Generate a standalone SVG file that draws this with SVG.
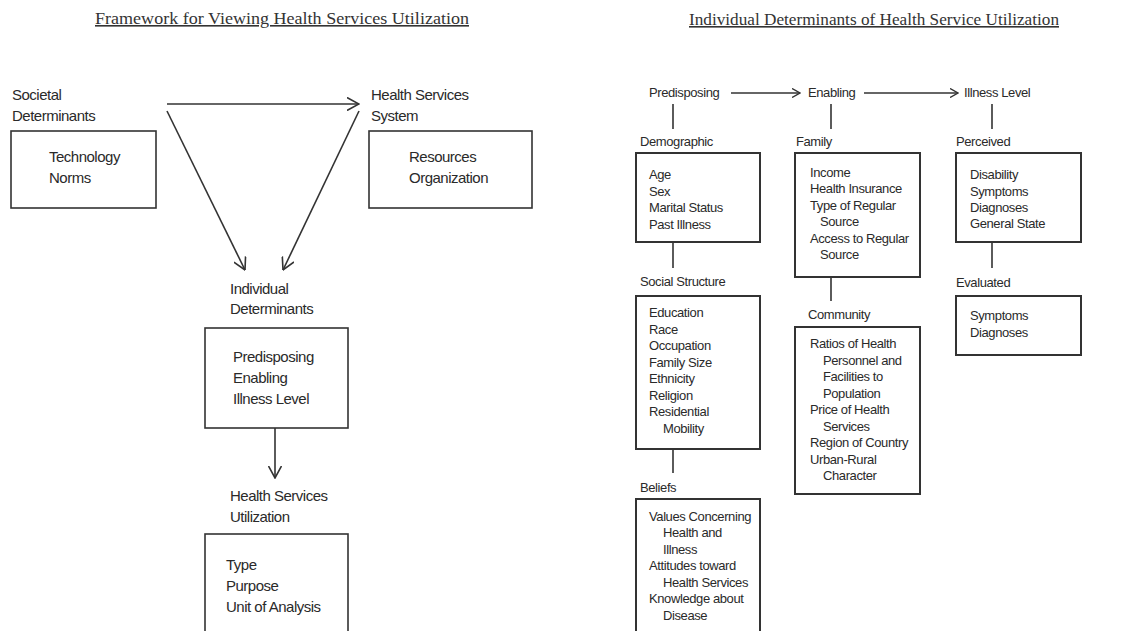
<svg xmlns="http://www.w3.org/2000/svg" width="1123" height="631" viewBox="0 0 1123 631">
  <style>
    .title { font-family: "Liberation Serif", "Times New Roman", serif; font-size: 16px; fill: #333; text-decoration: underline; }
    .lbl { font-family: "Liberation Sans", Arial, sans-serif; font-size: 15px; letter-spacing: -0.5px; fill: #2a2a2a; }
    .sm { font-family: "Liberation Sans", Arial, sans-serif; font-size: 13px; letter-spacing: -0.4px; fill: #2a2a2a; }
    .box { fill: #fff; stroke: #333; stroke-width: 1.6; }
    .box2 { fill: #fff; stroke: #333; stroke-width: 2; }
    .line { fill: none; stroke: #333; stroke-width: 1.6; }
  </style>
  <defs>
    <marker id="chev" viewBox="0 0 13 14" refX="12.5" refY="7" markerWidth="13" markerHeight="14" markerUnits="userSpaceOnUse" orient="auto">
      <path d="M0.5,0.5 L12.5,7 L0.5,13.5" fill="none" stroke="#333" stroke-width="1.6"/>
    </marker>
    <marker id="chevSm" viewBox="0 0 9 10" refX="8.5" refY="5" markerWidth="9" markerHeight="10" markerUnits="userSpaceOnUse" orient="auto">
      <path d="M0.5,0.5 L8.5,5 L0.5,9.5" fill="none" stroke="#333" stroke-width="1.4"/>
    </marker>
  </defs>
  <rect width="1123" height="631" fill="#fff"/>

  <!-- headings -->
  <text class="title" x="95" y="24" textLength="374" lengthAdjust="spacingAndGlyphs">Framework for Viewing Health Services Utilization</text>
  <text class="title" x="689" y="25" textLength="370" lengthAdjust="spacingAndGlyphs">Individual Determinants of Health Service Utilization</text>

  <!-- connectors -->
  <g id="connectors">
    <line class="line" x1="167" y1="104" x2="359" y2="104" marker-end="url(#chev)"/>
    <line class="line" x1="167" y1="111" x2="245" y2="270" marker-end="url(#chev)"/>
    <line class="line" x1="359" y1="111" x2="283" y2="270" marker-end="url(#chev)"/>
    <line class="line" x1="275" y1="428" x2="275" y2="478" marker-end="url(#chev)"/>

    <line class="line" x1="731" y1="93" x2="800" y2="93" marker-end="url(#chevSm)"/>
    <line class="line" x1="864" y1="93" x2="958" y2="93" marker-end="url(#chevSm)"/>
    <line class="line" x1="673" y1="104" x2="673" y2="129"/>
    <line class="line" x1="831" y1="104" x2="831" y2="129"/>
    <line class="line" x1="992" y1="104" x2="992" y2="129"/>
    <line class="line" x1="673" y1="242" x2="673" y2="268"/>
    <line class="line" x1="673" y1="449" x2="673" y2="473"/>
    <line class="line" x1="831" y1="277" x2="831" y2="301"/>
    <line class="line" x1="992" y1="242" x2="992" y2="268"/>
  </g>

  <!-- left framework -->
  <g id="societal">
    <text class="lbl" x="12" y="100">Societal</text>
    <text class="lbl" x="12" y="121">Determinants</text>
    <rect class="box" x="11" y="131" width="145" height="77"/>
    <text class="lbl" x="49" y="162">Technology</text>
    <text class="lbl" x="49" y="183">Norms</text>
  </g>
  <g id="health-system">
    <text class="lbl" x="371" y="100">Health Services</text>
    <text class="lbl" x="371" y="121">System</text>
    <rect class="box" x="369" y="131" width="163" height="77"/>
    <text class="lbl" x="409" y="162">Resources</text>
    <text class="lbl" x="409" y="183">Organization</text>
  </g>
  <g id="individual">
    <text class="lbl" x="230" y="294">Individual</text>
    <text class="lbl" x="230" y="314">Determinants</text>
    <rect class="box" x="205" y="328" width="143" height="100"/>
    <text class="lbl" x="233" y="362">Predisposing</text>
    <text class="lbl" x="233" y="383">Enabling</text>
    <text class="lbl" x="233" y="404">Illness Level</text>
  </g>
  <g id="utilization">
    <text class="lbl" x="230" y="501">Health Services</text>
    <text class="lbl" x="230" y="522">Utilization</text>
    <rect class="box" x="205" y="534" width="143" height="120"/>
    <text class="lbl" x="226" y="570">Type</text>
    <text class="lbl" x="226" y="591">Purpose</text>
    <text class="lbl" x="226" y="612">Unit of Analysis</text>
  </g>

  <!-- right framework: column headers -->
  <g id="predisposing"><text class="sm" x="649" y="97">Predisposing</text></g>
  <g id="enabling"><text class="sm" x="808" y="97">Enabling</text></g>
  <g id="illness-level"><text class="sm" x="964" y="97">Illness Level</text></g>

  <g id="demographic">
    <text class="sm" x="640" y="146">Demographic</text>
    <rect class="box2" x="636" y="153" width="124" height="89"/>
    <text class="sm" x="649" y="179">Age</text>
    <text class="sm" x="649" y="196">Sex</text>
    <text class="sm" x="649" y="212">Marital Status</text>
    <text class="sm" x="649" y="229">Past Illness</text>
  </g>
  <g id="social-structure">
    <text class="sm" x="640" y="286">Social Structure</text>
    <rect class="box2" x="636" y="296" width="124" height="153"/>
    <text class="sm" x="649" y="317">Education</text>
    <text class="sm" x="649" y="334">Race</text>
    <text class="sm" x="649" y="350">Occupation</text>
    <text class="sm" x="649" y="367">Family Size</text>
    <text class="sm" x="649" y="383">Ethnicity</text>
    <text class="sm" x="649" y="400">Religion</text>
    <text class="sm" x="649" y="416">Residential</text>
    <text class="sm" x="663" y="433">Mobility</text>
  </g>
  <g id="beliefs">
    <text class="sm" x="640" y="492">Beliefs</text>
    <rect class="box2" x="636" y="499" width="124" height="150"/>
    <text class="sm" x="649" y="521">Values Concerning</text>
    <text class="sm" x="663" y="537">Health and</text>
    <text class="sm" x="663" y="554">Illness</text>
    <text class="sm" x="649" y="570">Attitudes toward</text>
    <text class="sm" x="663" y="587">Health Services</text>
    <text class="sm" x="649" y="603">Knowledge about</text>
    <text class="sm" x="663" y="620">Disease</text>
  </g>

  <g id="family">
    <text class="sm" x="796" y="146">Family</text>
    <rect class="box2" x="795" y="153" width="125" height="124"/>
    <text class="sm" x="810" y="177">Income</text>
    <text class="sm" x="810" y="193">Health Insurance</text>
    <text class="sm" x="810" y="210">Type of Regular</text>
    <text class="sm" x="820" y="226">Source</text>
    <text class="sm" x="810" y="243">Access to Regular</text>
    <text class="sm" x="820" y="259">Source</text>
  </g>
  <g id="community">
    <text class="sm" x="808" y="319">Community</text>
    <rect class="box2" x="795" y="327" width="125" height="167"/>
    <text class="sm" x="810" y="348">Ratios of Health</text>
    <text class="sm" x="823" y="365">Personnel and</text>
    <text class="sm" x="823" y="381">Facilities to</text>
    <text class="sm" x="823" y="398">Population</text>
    <text class="sm" x="810" y="414">Price of Health</text>
    <text class="sm" x="823" y="431">Services</text>
    <text class="sm" x="810" y="447">Region of Country</text>
    <text class="sm" x="810" y="464">Urban-Rural</text>
    <text class="sm" x="823" y="480">Character</text>
  </g>

  <g id="perceived">
    <text class="sm" x="956" y="146">Perceived</text>
    <rect class="box2" x="956" y="153" width="125" height="89"/>
    <text class="sm" x="970" y="179">Disability</text>
    <text class="sm" x="970" y="196">Symptoms</text>
    <text class="sm" x="970" y="212">Diagnoses</text>
    <text class="sm" x="970" y="228">General State</text>
  </g>
  <g id="evaluated">
    <text class="sm" x="956" y="287">Evaluated</text>
    <rect class="box2" x="956" y="296" width="125" height="59"/>
    <text class="sm" x="970" y="320">Symptoms</text>
    <text class="sm" x="970" y="337">Diagnoses</text>
  </g>
</svg>
